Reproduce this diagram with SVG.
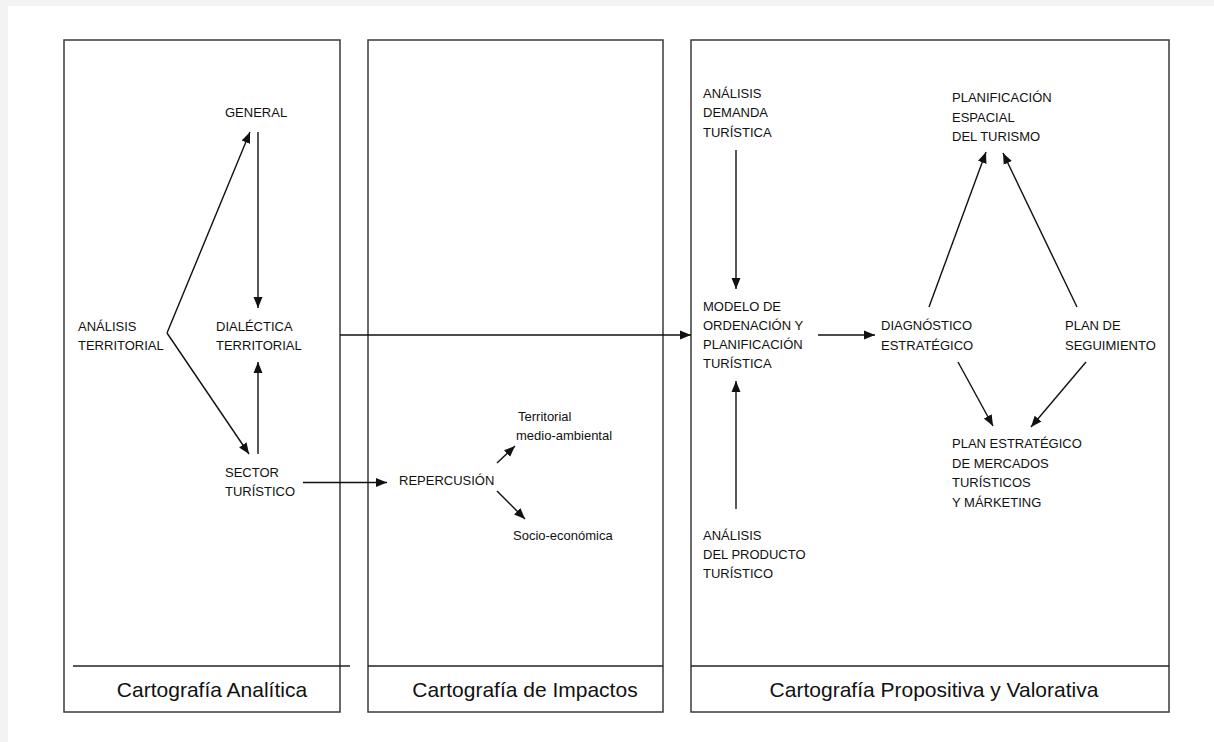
<svg xmlns="http://www.w3.org/2000/svg" width="1214" height="742" viewBox="0 0 1214 742">
<style>
.panel{fill:none;stroke:#3a3a3a;stroke-width:1.5}
.sep{stroke:#222;stroke-width:1.3}
.t{font-family:"Liberation Sans",Arial,sans-serif;font-size:13px;fill:#111}
.title{font-family:"Liberation Sans",Arial,sans-serif;font-size:21px;fill:#111;text-anchor:middle}
.c{stroke:#111;stroke-width:1.4;fill:none;marker-end:url(#ah)}
</style>
<defs>
<marker id="ah" markerUnits="userSpaceOnUse" markerWidth="11" markerHeight="10" refX="11" refY="4.5" orient="auto" viewBox="0 0 11 9">
<path d="M0,0 L11,4.5 L0,9 z" fill="#111"/>
</marker>
</defs>
<rect x="0" y="0" width="1214" height="742" fill="#f3f3f3"/>
<rect x="8" y="6" width="1206" height="736" fill="#ffffff"/>

<g id="panel-analitica">
<rect class="panel" x="64" y="40" width="276" height="672"/>
<line class="sep" x1="73" y1="666" x2="350" y2="666"/>
<text class="title" x="212" y="697">Cartografía Analítica</text>
</g>
<g id="panel-impactos">
<rect class="panel" x="368" y="40" width="295" height="672"/>
<line class="sep" x1="368" y1="666" x2="663" y2="666"/>
<text class="title" x="525" y="697">Cartografía de Impactos</text>
</g>
<g id="panel-propositiva">
<rect class="panel" x="691" y="40" width="478" height="672"/>
<line class="sep" x1="691" y1="666" x2="1169" y2="666"/>
<text class="title" x="934" y="697">Cartografía Propositiva y Valorativa</text>
</g>

<g id="n-general"><text class="t" x="225" y="117">GENERAL</text></g>
<g id="n-analisis-territorial"><text class="t" x="78" y="331">ANÁLISIS</text><text class="t" x="78" y="350">TERRITORIAL</text></g>
<g id="n-dialectica"><text class="t" x="216" y="331">DIALÉCTICA</text><text class="t" x="216" y="350">TERRITORIAL</text></g>
<g id="n-sector"><text class="t" x="225" y="477">SECTOR</text><text class="t" x="225" y="496">TURÍSTICO</text></g>

<g id="n-repercusion"><text class="t" x="399" y="485">REPERCUSIÓN</text></g>
<g id="n-territorial-ma"><text class="t" x="518" y="421">Territorial</text><text class="t" x="516" y="440">medio-ambiental</text></g>
<g id="n-socio"><text class="t" x="513" y="540">Socio-económica</text></g>

<g id="n-analisis-demanda"><text class="t" x="703" y="98">ANÁLISIS</text><text class="t" x="703" y="117">DEMANDA</text><text class="t" x="703" y="137">TURÍSTICA</text></g>
<g id="n-modelo"><text class="t" x="703" y="311">MODELO DE</text><text class="t" x="703" y="330">ORDENACIÓN Y</text><text class="t" x="703" y="349">PLANIFICACIÓN</text><text class="t" x="703" y="368">TURÍSTICA</text></g>
<g id="n-analisis-producto"><text class="t" x="703" y="540">ANÁLISIS</text><text class="t" x="703" y="559">DEL PRODUCTO</text><text class="t" x="703" y="578">TURÍSTICO</text></g>
<g id="n-planif-espacial"><text class="t" x="952" y="102">PLANIFICACIÓN</text><text class="t" x="952" y="122">ESPACIAL</text><text class="t" x="952" y="141">DEL TURISMO</text></g>
<g id="n-diagnostico"><text class="t" x="881" y="330">DIAGNÓSTICO</text><text class="t" x="881" y="350">ESTRATÉGICO</text></g>
<g id="n-seguimiento"><text class="t" x="1065" y="330">PLAN DE</text><text class="t" x="1065" y="350">SEGUIMIENTO</text></g>
<g id="n-plan-estrategico"><text class="t" x="952" y="448">PLAN ESTRATÉGICO</text><text class="t" x="952" y="468">DE MERCADOS</text><text class="t" x="952" y="487">TURÍSTICOS</text><text class="t" x="952" y="507">Y MÁRKETING</text></g>

<g id="connectors">
<line class="c" x1="258" y1="132" x2="258" y2="308"/>
<line class="c" x1="167" y1="333" x2="250" y2="132"/>
<line class="c" x1="167" y1="333" x2="249" y2="454"/>
<line class="c" x1="258" y1="454" x2="258" y2="362"/>
<line class="c" x1="303" y1="482.5" x2="387" y2="482.5"/>
<line class="c" x1="340" y1="335" x2="691" y2="335"/>
<line class="c" x1="497" y1="463" x2="515" y2="446"/>
<line class="c" x1="497" y1="491" x2="525" y2="519"/>
<line class="c" x1="736" y1="150" x2="736" y2="289"/>
<line class="c" x1="736" y1="509" x2="736" y2="381"/>
<line class="c" x1="818" y1="335" x2="875" y2="335"/>
<line class="c" x1="929" y1="307" x2="986" y2="152"/>
<line class="c" x1="1077" y1="307" x2="1003" y2="153"/>
<line class="c" x1="958" y1="362" x2="993" y2="426"/>
<line class="c" x1="1086" y1="362" x2="1031" y2="427"/>
</g>
</svg>
